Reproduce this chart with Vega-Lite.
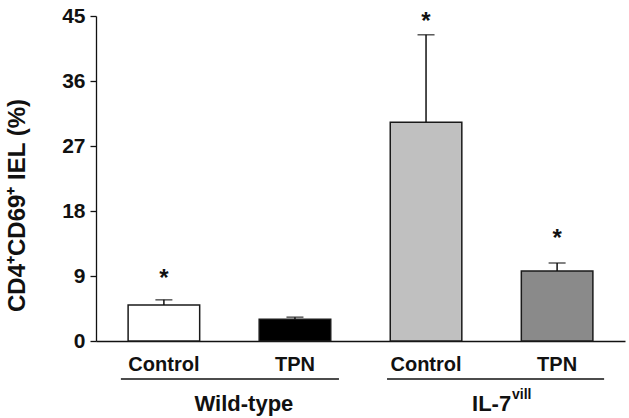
{
  "$schema": "https://vega.github.io/schema/vega-lite/v6.json",
  "width": 529,
  "height": 325,
  "autosize": "none",
  "padding": {"left": 96, "top": 16, "right": 4, "bottom": 77},
  "background": "white",
  "config": {
    "view": {"stroke": null},
    "font": "Liberation Sans",
    "axis": {"grid": false, "domainColor": "#111", "tickColor": "#111", "labelColor": "#111", "titleColor": "#111", "labelFont": "Liberation Sans", "titleFont": "Liberation Sans", "labelFontWeight": "bold", "titleFontWeight": "bold", "domainWidth": 1.3, "tickWidth": 1.3}
  },
  "datasets": {
    "bars": [
      {"bar": "Wild-type|Control", "value": 5.0, "err": 5.7, "sig": "*", "star": 9.4},
      {"bar": "Wild-type|TPN", "value": 3.0, "err": 3.3, "sig": "", "star": 0},
      {"bar": "IL-7|Control", "value": 30.3, "err": 42.4, "sig": "*", "star": 45.0},
      {"bar": "IL-7|TPN", "value": 9.7, "err": 10.8, "sig": "*", "star": 15.0}
    ],
    "groups": [
      {"group": "Wild-type", "first": "Wild-type|Control", "last": "Wild-type|TPN", "lineY": -5.26, "labelY": -8.7, "main": "Wild-type", "sup": ""},
      {"group": "IL-7", "first": "IL-7|Control", "last": "IL-7|TPN", "lineY": -5.26, "labelY": -8.7, "main": "IL-7", "sup": "vill"}
    ]
  },
  "layer": [
    {
      "data": {"name": "bars"},
      "mark": {"type": "bar", "stroke": "#1a1a1a", "strokeWidth": 1.5},
      "encoding": {
        "x": {
          "field": "bar", "type": "nominal",
          "sort": null,
          "scale": {"domain": ["Wild-type|Control", "Wild-type|TPN", "IL-7|Control", "IL-7|TPN"], "paddingInner": 0.454, "paddingOuter": 0.245},
          "axis": {"title": null, "ticks": false, "labelAngle": 0, "labelPadding": 13, "labelFontSize": 20, "labelExpr": "split(datum.label, '|')[1]"}
        },
        "y": {
          "field": "value", "type": "quantitative",
          "scale": {"domain": [0, 45], "nice": false, "zero": true},
          "axis": {"values": [0, 9, 18, 27, 36, 45], "tickSize": 6, "labelPadding": 5, "labelFontSize": 21, "title": "CD4⁺CD69⁺ IEL (%)", "titleFontSize": 24, "titleX": -79, "titleY": 189, "titleAngle": -90, "titleAlign": "center", "titleBaseline": "middle"}
        },
        "fill": {
          "field": "bar", "type": "nominal",
          "scale": {"domain": ["Wild-type|Control", "Wild-type|TPN", "IL-7|Control", "IL-7|TPN"], "range": ["#ffffff", "#000000", "#c0c0c0", "#8a8a8a"]},
          "legend": null
        }
      }
    },
    {
      "data": {"name": "bars"},
      "mark": {"type": "rule", "color": "#111", "strokeWidth": 1.5},
      "encoding": {
        "x": {"field": "bar", "type": "nominal", "sort": null},
        "y": {"field": "value", "type": "quantitative"},
        "y2": {"field": "err"}
      }
    },
    {
      "data": {"name": "bars"},
      "mark": {"type": "tick", "color": "#111", "size": 17, "thickness": 1.5},
      "encoding": {
        "x": {"field": "bar", "type": "nominal", "sort": null},
        "y": {"field": "err", "type": "quantitative"}
      }
    },
    {
      "data": {"name": "bars"},
      "mark": {"type": "text", "fontSize": 24, "fontWeight": "bold", "color": "#111", "baseline": "middle", "dy": 6},
      "encoding": {
        "x": {"field": "bar", "type": "nominal", "sort": null},
        "y": {"field": "star", "type": "quantitative"},
        "text": {"field": "sig"}
      }
    },
    {
      "data": {"name": "groups"},
      "transform": [{"filter": "datum.group === 'Wild-type'"}],
      "mark": {"type": "rule", "color": "#111", "strokeWidth": 1.3, "xOffset": -43, "x2Offset": 44},
      "encoding": {
        "x": {"field": "first", "type": "nominal", "sort": null},
        "x2": {"field": "last"},
        "y": {"field": "lineY", "type": "quantitative"}
      }
    },
    {
      "data": {"name": "groups"},
      "transform": [{"filter": "datum.group === 'IL-7'"}],
      "mark": {"type": "rule", "color": "#111", "strokeWidth": 1.3, "xOffset": -39, "x2Offset": 47},
      "encoding": {
        "x": {"field": "first", "type": "nominal", "sort": null},
        "x2": {"field": "last"},
        "y": {"field": "lineY", "type": "quantitative"}
      }
    },
    {
      "data": {"name": "groups"},
      "transform": [{"filter": "datum.group === 'Wild-type'"}],
      "mark": {"type": "text", "fontSize": 22, "fontWeight": "bold", "color": "#111", "align": "center", "baseline": "middle", "dx": 80},
      "encoding": {
        "x": {"field": "first", "type": "nominal", "sort": null},
        "y": {"field": "labelY", "type": "quantitative"},
        "text": {"field": "main"}
      }
    },
    {
      "data": {"name": "groups"},
      "transform": [{"filter": "datum.group === 'IL-7'"}],
      "mark": {"type": "text", "fontSize": 22, "fontWeight": "bold", "color": "#111", "align": "left", "baseline": "middle", "dx": 46},
      "encoding": {
        "x": {"field": "first", "type": "nominal", "sort": null},
        "y": {"field": "labelY", "type": "quantitative"},
        "text": {"field": "main"}
      }
    },
    {
      "data": {"name": "groups"},
      "transform": [{"filter": "datum.group === 'IL-7'"}],
      "mark": {"type": "text", "fontSize": 14, "fontWeight": "bold", "color": "#111", "align": "left", "baseline": "middle", "dx": 86, "dy": -9},
      "encoding": {
        "x": {"field": "first", "type": "nominal", "sort": null},
        "y": {"field": "labelY", "type": "quantitative"},
        "text": {"field": "sup"}
      }
    }
  ]
}
